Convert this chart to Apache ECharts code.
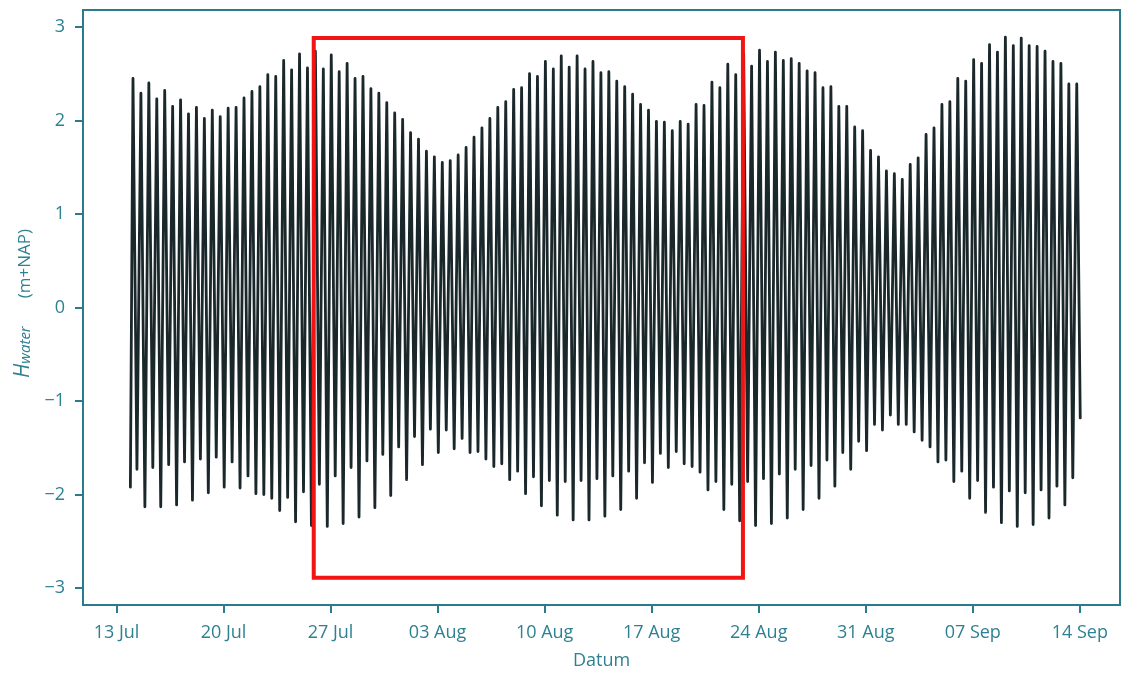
<!DOCTYPE html>
<html><head><meta charset="utf-8">
<script src="https://cdn.jsdelivr.net/npm/echarts@6/dist/echarts.min.js"></script>
<style>html,body{margin:0;padding:0;background:#fff}#c{width:1123px;height:675px}</style>
</head><body><div id="c"></div>
<script>
// Water level extremes (m+NAP), in time order
const startLevel = -1.92;
const endLevel = -1.18;
const highs = [
  2.45, 2.29, 2.40, 2.23, 2.32, 2.15, 2.22, 2.07, 2.14, 2.02, 2.11, 2.04, 2.13, 2.14, 2.24, 2.31, 2.36, 2.49, 2.47, 2.64, 2.54, 2.71, 2.56,
  2.74, 2.55, 2.70, 2.52, 2.61, 2.45, 2.47, 2.34, 2.29, 2.19, 2.08, 2.01, 1.87, 1.80, 1.67, 1.61, 1.55, 1.57, 1.63, 1.71, 1.82, 1.92, 2.02, 2.14,
  2.20, 2.33, 2.35, 2.50, 2.47, 2.63, 2.55, 2.69, 2.57, 2.69, 2.55, 2.63, 2.51, 2.52, 2.42, 2.36, 2.28, 2.17, 2.11, 1.99, 1.98, 1.89, 1.99, 1.96,
  2.17, 2.16, 2.41, 2.35, 2.60, 2.49, 2.71, 2.58, 2.75, 2.63, 2.73, 2.64, 2.66, 2.61, 2.53, 2.51, 2.35, 2.36, 2.15, 2.15, 1.93, 1.89, 1.68, 1.61,
  1.46, 1.43, 1.37, 1.53, 1.60, 1.85, 1.92, 2.17, 2.20, 2.45, 2.42, 2.65, 2.61, 2.81, 2.73, 2.89, 2.80, 2.88, 2.80, 2.79, 2.74, 2.63, 2.61, 2.39, 2.39
];
const lows = [
  -1.73, -2.13, -1.71, -2.13, -1.68, -2.11, -1.65, -2.06, -1.62, -1.98, -1.60, -1.92, -1.65, -1.93, -1.80, -1.99, -2.00, -2.04, -2.17, -2.03, -2.29, -1.97, -2.33,
  -1.89, -2.34, -1.80, -2.31, -1.71, -2.24, -1.64, -2.14, -1.57, -2.01, -1.49, -1.84, -1.38, -1.68, -1.30, -1.55, -1.31, -1.51, -1.40, -1.55, -1.54, -1.62, -1.70, -1.67,
  -1.84, -1.75, -1.99, -1.81, -2.12, -1.85, -2.22, -1.86, -2.27, -1.85, -2.27, -1.83, -2.23, -1.80, -2.16, -1.75, -2.04, -1.66, -1.87, -1.56, -1.71, -1.54, -1.67, -1.70,
  -1.76, -1.95, -1.86, -2.16, -1.89, -2.28, -1.86, -2.33, -1.83, -2.31, -1.78, -2.25, -1.73, -2.16, -1.69, -2.04, -1.63, -1.91, -1.55, -1.73, -1.43, -1.53, -1.25, -1.31,
  -1.15, -1.25, -1.25, -1.33, -1.42, -1.49, -1.65, -1.63, -1.86, -1.75, -2.04, -1.85, -2.19, -1.92, -2.30, -1.96, -2.34, -1.98, -2.32, -1.95, -2.25, -1.91, -2.11, -1.82
];
// timing (days after 13 Jul 00:00)
const startDay = 0.909;
const firstHighDay = 1.079;
const tidePeriodDays = 0.51868;
const endDay = 63.03;
const axisRangeDays = [-2.19, 65.63];
// axis ticks
const tickDays = [0, 7, 14, 21, 28, 35, 42, 49, 56, 63];
const tickLabels = ['13 Jul', '20 Jul', '27 Jul', '03 Aug', '10 Aug', '17 Aug', '24 Aug', '31 Aug', '07 Sep', '14 Sep'];
const yTicks = [-3, -2, -1, 0, 1, 2, 3];
const yRange = [-3.18, 3.18];
// highlighted period (red box)
const boxDays = [12.90, 40.97];
const boxLevels = [-2.89, 2.88];

const DAY = 86400000;
const base = Date.UTC(2021, 6, 13);
const t = d => base + d * DAY;

const pts = [[t(startDay), startLevel]];
for (let i = 0; i < highs.length; i++) {
  const th = firstHighDay + i * tidePeriodDays;
  pts.push([t(th), highs[i]]);
  if (i < lows.length) pts.push([t(th + tidePeriodDays / 2), lows[i]]);
}
pts.push([t(endDay), endLevel]);

const TEAL = '#2a7c8c';
const TEXT = '#2d8191';
const FONT = '"Open Sans", "DejaVu Sans", sans-serif';
const tickTimes = tickDays.map(t);

const chart = echarts.init(document.getElementById('c'), null, {renderer: 'canvas'});
chart.setOption({
  animation: false,
  backgroundColor: '#ffffff',
  grid: {left: 83, right: 3, top: 10, bottom: 66, show: true, borderColor: TEAL, borderWidth: 2, backgroundColor: 'transparent'},
  xAxis: {
    type: 'value',
    min: t(axisRangeDays[0]), max: t(axisRangeDays[1]),
    name: 'Datum', nameLocation: 'middle', nameGap: 47,
    nameTextStyle: {color: TEXT, fontSize: 18, fontFamily: FONT},
    axisLine: {show: true, onZero: false, lineStyle: {color: TEAL, width: 2}},
    axisTick: {show: true, length: 8, customValues: tickTimes, lineStyle: {color: TEAL, width: 2}},
    axisLabel: {
      customValues: tickTimes, margin: 19, color: TEXT, fontSize: 18, fontFamily: FONT,
      formatter: v => tickLabels[tickTimes.indexOf(v)] || ''
    },
    splitLine: {show: false}
  },
  yAxis: {
    type: 'value', min: yRange[0], max: yRange[1],
    name: '{i|H}{s|water}{n|(m+NAP)}', nameLocation: 'middle', nameGap: 47, nameRotate: 90,
    nameTextStyle: {
      color: TEXT, fontFamily: FONT, padding: [0, 0, 0, 8],
      rich: {
        i: {fontStyle: 'italic', fontSize: 21, color: TEXT, fontFamily: FONT, lineHeight: 24, verticalAlign: 'bottom'},
        s: {fontStyle: 'italic', fontSize: 15, color: TEXT, fontFamily: FONT, verticalAlign: 'bottom', lineHeight: 16},
        n: {fontSize: 17, color: TEXT, fontFamily: FONT, lineHeight: 22, verticalAlign: 'bottom', padding: [0, 0, 0, 28]}
      }
    },
    axisLine: {show: true, onZero: false, lineStyle: {color: TEAL, width: 2}},
    axisTick: {show: true, length: 8, customValues: yTicks, lineStyle: {color: TEAL, width: 2}},
    axisLabel: {
      customValues: yTicks, margin: 18, color: TEXT, fontSize: 18, fontFamily: FONT,
      formatter: v => (v < 0 ? '\u2212' + Math.abs(v) : String(v))
    },
    splitLine: {show: false}
  },
  series: [{
    type: 'line', data: pts, showSymbol: false, symbol: 'none',
    lineStyle: {color: '#1b282b', width: 2.8, join: 'round', cap: 'round'},
    markArea: {
      z: 10, silent: true,
      itemStyle: {color: 'rgba(0,0,0,0)', borderColor: '#f01414', borderWidth: 4},
      data: [[{xAxis: t(boxDays[0]), yAxis: boxLevels[0]}, {xAxis: t(boxDays[1]), yAxis: boxLevels[1]}]]
    }
  }]
});
</script></body></html>
